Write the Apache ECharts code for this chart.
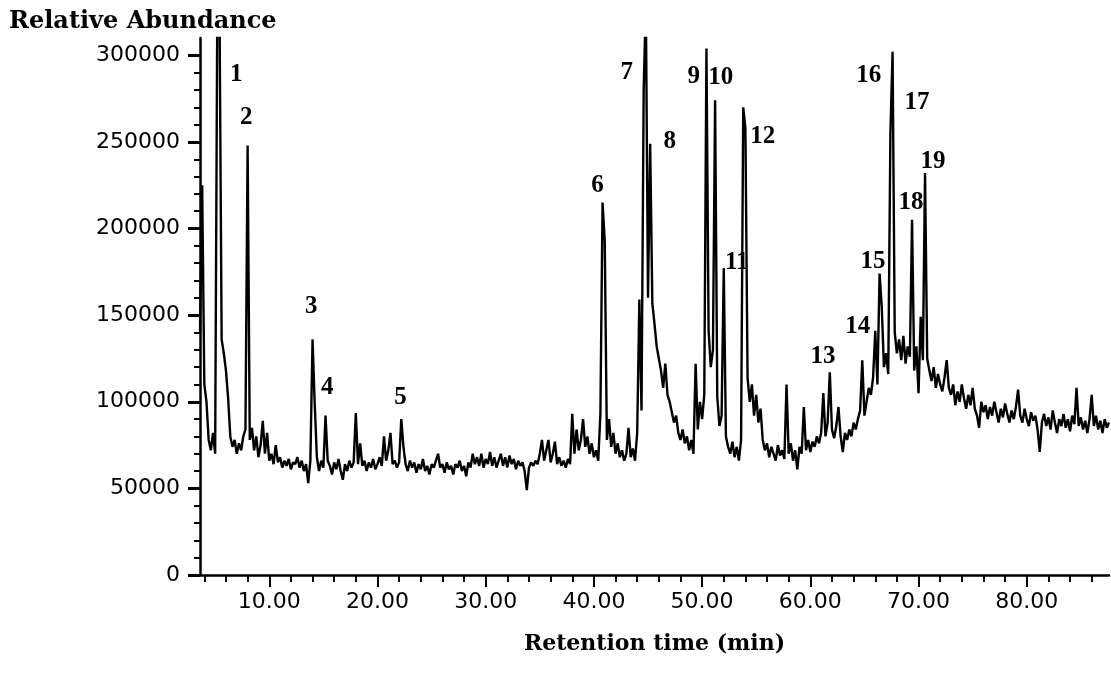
<!DOCTYPE html>
<html>
<head>
<meta charset="utf-8">
<script src="https://cdn.jsdelivr.net/npm/echarts@6/dist/echarts.min.js"></script>
<style>
html,body{margin:0;padding:0;background:#fff;}
#chart{width:1111px;height:679px;}
</style>
</head>
<body>
<div id="chart"></div>
<script>
// Sampling grid of the chromatogram (minutes)
const startTime = 3.6;
const timeStep = 0.2;
// Relative abundance, in thousands of counts, one value per sample
const abundanceK = [
  140,225,110,100,78,72,82,70,330,330,
  136,128,118,102,80,74,78,70,76,72,
  80,84,248,78,85,72,80,68,75,89,
  70,82,66,70,64,75,65,68,62,66,
  63,67,61,65,64,68,62,66,60,64,
  53,66,136,99,68,60,66,62,92,66,
  63,58,65,61,67,60,55,64,60,66,
  62,65,93.5,64,76,63,66,60,65,62,
  67,61,64,68,63,80,66,72,82,64,
  66,62,65,90,74,64,60,66,62,65,
  59,64,61,67,60,63,58,64,62,66,
  70,62,64,59,65,61,63,58,64,62,
  66,60,63,57,65,62,70,64,68,63,
  70,62,67,64,71,63,68,62,66,70,
  63,68,62,69,64,67,61,66,63,65,
  60,49,62,65,63,66,64,70,78,66,
  72,78,65,70,77,64,68,63,66,62,
  67,64,93,70,84,72,78,90,74,80,
  70,76,68,72,66,93,215,193,78,90,
  74,82,70,76,68,72,66,70,85,68,
  73,66,82,159,95,280,330,160,249,157,
  145,132,125,118,108,122,104,100,94,88,
  92,82,78,84,76,80,72,78,70,122,
  84,100,90,104,304,141,120,130,274,103,
  86,92,177,80,74,70,77,68,74,66,
  78,270,258,114,100,110,92,104,88,96,
  78,72,76,68,74,70,66,75,69,72,
  67,110,70,76,66,72,61,74,70,97,
  72,78,71,77,74,80,76,82,105,80,
  88,117,84,79,86,97,80,71,82,78,
  84,80,88,84,90,95,124,92,100,108,
  104,114,141,110,174,155,120,128,116,255,
  302,140,128,136,124,138,122,132,126,205,
  118,132,105,149,124,232,125,118,112,120,
  108,116,110,106,114,124,108,104,110,98,
  106,100,110,102,96,104,98,108,96,92,
  85,100,94,98,90,97,92,100,94,88,
  96,91,99,93,88,95,90,97,107,92,
  88,96,90,86,94,89,92,84,71,88,
  93,86,91,84,95,88,82,90,86,93,
  85,90,83,92,87,108,86,91,84,89,
  82,90,104,86,92,84,89,82,90,85,
  88
];
// Peak numbers and where they are written (time in min, abundance)
const peakNames = ['1','2','3','4','5','6','7','8','9','10','11','12','13','14','15','16','17','18','19'];
const peakLabelTimes = [6.95,7.87,13.89,15.37,22.12,40.34,43.03,47.0,49.22,51.72,53.2,55.61,61.16,64.39,65.78,65.41,69.85,69.3,71.33];
const peakLabelHeights = [288700,263900,154700,108000,102200,224600,289900,250000,287500,287000,180100,252900,125900,143200,180700,288100,272500,214800,238500];
// Axis ticks and labels
const xLabelValues = [10,20,30,40,50,60,70,80];
const xTickValues = [4,6,8,10,12,14,16,18,20,22,24,26,28,30,32,34,36,38,40,42,44,46,48,50,52,54,56,58,60,62,64,66,68,70,72,74,76,78,80,82,84,86];
const yTickValues = [0,50000,100000,150000,200000,250000,300000];

const trace = abundanceK.map((v, i) => [startTime + i * timeStep, v * 1000]);
const labelPoints = peakNames.map((n, i) => [peakLabelTimes[i], peakLabelHeights[i], n]);

const chart = echarts.init(document.getElementById('chart'), null, {renderer: 'canvas'});
chart.setOption({
  animation: false,
  backgroundColor: '#ffffff',
  title: {
    text: 'Relative Abundance',
    left: 4, top: 5,
    textStyle: {fontFamily: 'DejaVu Serif', fontWeight: 'bold', fontSize: 24, color: '#000'}
  },
  grid: {left: 200, right: 2, top: 38, bottom: 104, containLabel: false},
  xAxis: [{
    type: 'value', min: 3.6, max: 87.6,
    name: 'Retention time (min)', nameLocation: 'middle', nameGap: 58,
    nameTextStyle: {fontFamily: 'DejaVu Serif', fontWeight: 'bold', fontSize: 22, color: '#000'},
    axisLine: {show: true, lineStyle: {color: '#000', width: 2.5}},
    axisTick: {show: true, customValues: xTickValues, length: 7, lineStyle: {color: '#000', width: 2}},
    axisLabel: {customValues: xLabelValues, formatter: v => v.toFixed(2), fontFamily: 'DejaVu Sans', fontSize: 22, color: '#000', margin: 16},
    splitLine: {show: false}
  }, {
    type: 'value', min: 3.6, max: 87.6, position: 'bottom',
    axisLine: {show: false},
    axisTick: {show: true, customValues: xLabelValues, length: 12, lineStyle: {color: '#000', width: 2}},
    axisLabel: {show: false},
    splitLine: {show: false}
  }],
  yAxis: {
    type: 'value', min: 0, max: 310000, interval: 50000,
    axisLine: {show: true, lineStyle: {color: '#000', width: 2.5}},
    axisTick: {show: true, customValues: yTickValues, length: 12, lineStyle: {color: '#000', width: 3}},
    minorTick: {show: true, splitNumber: 5, length: 6, lineStyle: {color: '#000', width: 2}},
    axisLabel: {customValues: yTickValues, formatter: v => String(v), fontFamily: 'DejaVu Sans', fontSize: 22, color: '#000', margin: 20},
    splitLine: {show: false},
    minorSplitLine: {show: false}
  },
  series: [{
    type: 'line',
    xAxisIndex: 0,
    data: trace,
    showSymbol: false,
    symbol: 'none',
    sampling: null,
    clip: true,
    lineStyle: {color: '#000', width: 2.4},
    emphasis: {disabled: true},
    z: 2
  }, {
    type: 'scatter',
    xAxisIndex: 0,
    data: labelPoints,
    symbolSize: 1,
    itemStyle: {color: '#000', opacity: 0},
    emphasis: {disabled: true},
    label: {
      show: true, position: 'inside',
      formatter: p => p.data[2],
      fontFamily: 'Liberation Serif', fontWeight: 'bold', fontSize: 25,
      color: '#000000', opacity: 1, textBorderWidth: 0
    },
    z: 5
  }]
});
</script>
</body>
</html>
